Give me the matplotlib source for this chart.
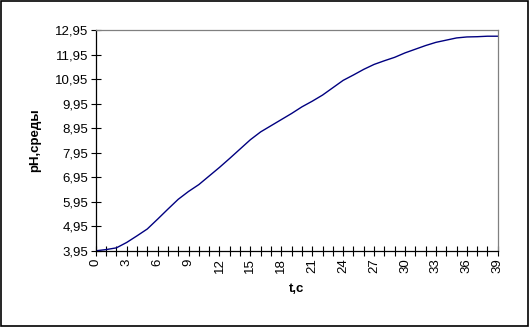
import matplotlib
matplotlib.use("Agg")
import matplotlib.pyplot as plt
from matplotlib.patches import Rectangle
import numpy as np

plt.rcParams['font.family'] = ['Liberation Sans', 'DejaVu Sans']

t = list(range(0, 40))
ph = [3.95, 4.00, 4.07, 4.29, 4.56, 4.84, 5.24, 5.65, 6.05, 6.37,
      6.65, 7.00, 7.35, 7.72, 8.10, 8.48, 8.80, 9.05, 9.30, 9.55,
      9.82, 10.05, 10.30, 10.60, 10.90, 11.12, 11.35, 11.55, 11.70, 11.84,
      12.02, 12.17, 12.32, 12.45, 12.54, 12.63, 12.67, 12.68, 12.70, 12.70]
yticks = [3.95 + i for i in range(10)]
xlabels = [str(v) for v in range(0, 40, 3)]

fig = plt.figure(figsize=(5.29, 3.27), dpi=100)
fig.patches.append(Rectangle((0.001, 0.002), 0.997, 0.995, transform=fig.transFigure,
                             fill=False, edgecolor='black', linewidth=1.2))
ax = fig.add_axes([0.181, 0.233, 0.760, 0.675])
ax.plot(t, ph, color='#000080', linewidth=1.0)
ax.set_xlim(0, 39)
ax.set_ylim(3.95, 12.95)
ax.set_yticks(yticks)
ax.set_yticklabels([f"{v:.2f}".replace('.', ',') for v in yticks], fontsize=9.5)
ax.set_xticks(range(0, 40))
ax.set_xticklabels([str(v) if v % 3 == 0 else '' for v in range(0, 40)], rotation=90, fontsize=9.5)
ax.tick_params(direction='inout', length=7, width=0.8, colors='black', pad=2)
ax.spines['top'].set_color('#808080')
ax.spines['right'].set_color('#808080')
ax.spines['left'].set_color('black')
ax.spines['bottom'].set_color('black')
for s in ax.spines.values():
    s.set_linewidth(0.9)
ax.set_xlabel('t,c', fontsize=9.5, fontweight='bold', labelpad=7)
ax.set_ylabel('pH,среды', fontsize=9.5, fontweight='bold', labelpad=10)
fig.savefig('out.png', dpi=100)
